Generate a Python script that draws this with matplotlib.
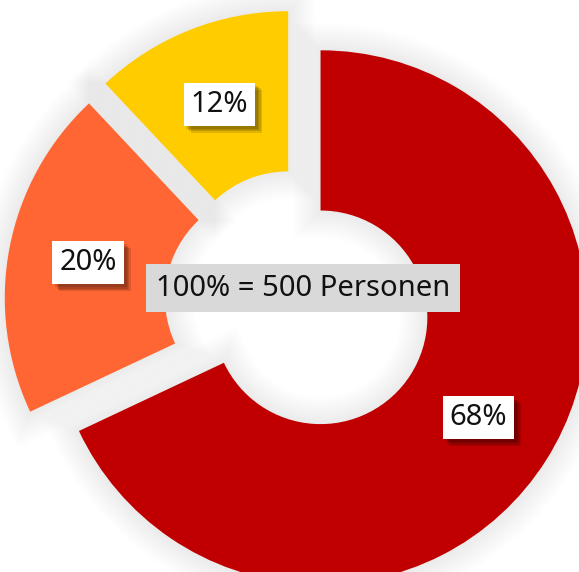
import matplotlib
matplotlib.use("Agg")
import matplotlib.pyplot as plt
import matplotlib.patheffects as pe
from matplotlib.patches import Wedge

# chart data
shares = [68, 20, 12]
slice_colors = ["#C00000", "#FF6633", "#FFCC00"]
total_people = 500
center_text = f"100% = {total_people} Personen"

plt.rcParams["font.family"] = ["Noto Sans", "DejaVu Sans"]

fig = plt.figure(figsize=(5.79, 5.72), dpi=100)
ax = fig.add_axes([0, 0, 1, 1])

wedges, _, pct_texts = ax.pie(
    shares,
    colors=slice_colors,
    startangle=90,
    counterclock=False,
    explode=[0.1] * len(shares),
    radius=1.0,
    autopct="%1.0f%%",
    pctdistance=0.7,
    wedgeprops=dict(width=0.6, linewidth=0, zorder=3),
)

# soft grey glow behind every slice
for w in wedges:
    for lw in range(40, 0, -2):
        glow = Wedge(w.center, w.r, w.theta1, w.theta2, width=w.width,
                     facecolor="none", edgecolor="black", linewidth=lw,
                     alpha=0.0045, zorder=1)
        ax.add_patch(glow)

# blurred drop shadow under the label boxes
box_shadow = [
    pe.withSimplePatchShadow(offset=(off, -off), shadow_rgbFace="black", alpha=0.12)
    for off in (5, 4, 3, 2)
] + [pe.Normal()]

for t in pct_texts:
    t.set_fontsize(21)
    t.set_color("#111111")
    t.set_zorder(5)
    t.set_bbox(dict(boxstyle="square,pad=0.24", facecolor="white", edgecolor="none"))
    t.get_bbox_patch().set_path_effects(box_shadow)

ax.text(0.019, 0.056, center_text, ha="center", va="center", fontsize=21,
        color="#111111", zorder=5,
        bbox=dict(boxstyle="square,pad=0.33", facecolor="#D9D9D9", edgecolor="none"))

ax.set_xlim(-298 / 267, (579 - 298) / 267)
ax.set_ylim((303 - 572) / 267, 303 / 267)
ax.set_aspect("auto")
ax.axis("off")

fig.savefig("out.png", dpi=100)
